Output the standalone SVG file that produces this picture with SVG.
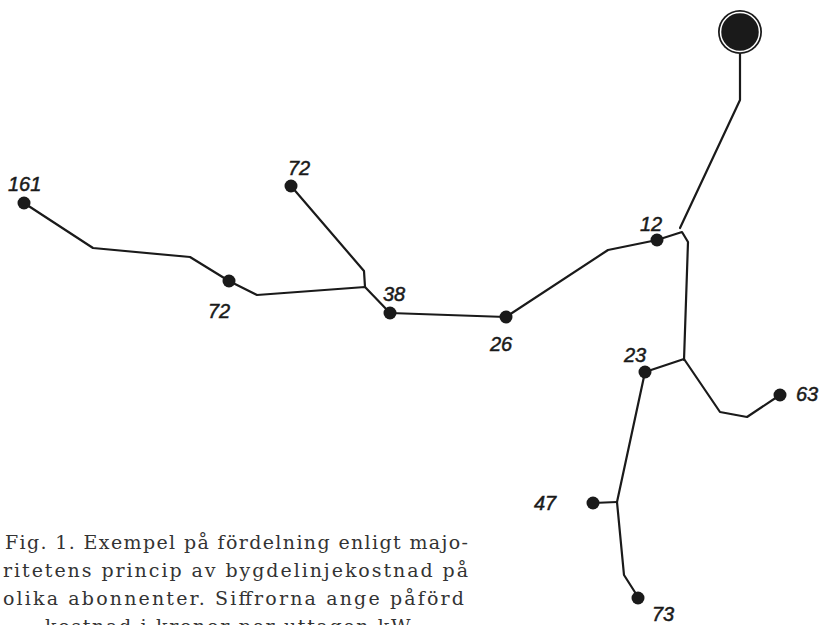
<svg xmlns="http://www.w3.org/2000/svg" width="828" height="625" viewBox="0 0 828 625">
<style>
.wire{fill:none;stroke:#1a1a1a;stroke-width:2.2;stroke-linejoin:round;stroke-linecap:round}
.dot{fill:#1a1a1a}
.lbl{font-family:"Liberation Sans",Arial,sans-serif;font-style:italic;font-size:20px;fill:#1a1a1a;stroke:#1a1a1a;stroke-width:0.5}
.cap{font-family:"DejaVu Serif","Liberation Serif",serif;font-size:19px;fill:#333}
</style>
<rect width="828" height="625" fill="#fff"/>
<g id="connectors">
<path class="wire" d="M740,54 L740,100 L680,228"/>
<path class="wire" d="M657,240 L682,232 L688,242 L684,360"/>
<path class="wire" d="M657,240 L608,250 L506,317"/>
<path class="wire" d="M506,317 L390,313"/>
<path class="wire" d="M390,313 L365,287 L257,295 L229,281 L190,257 L93,248 L24,203"/>
<path class="wire" d="M365,287 L364,271 L291,186"/>
<path class="wire" d="M645,372 L684,359 L720,412 L747,417 L780,395"/>
<path class="wire" d="M645,372 L617,502 L624,575 L638,597"/>
<path class="wire" d="M593,503 L617,502"/>
</g>
<g id="source">
<circle cx="740" cy="32" r="22" fill="#1a1a1a"/>
<circle cx="740" cy="32" r="19.5" fill="none" stroke="#fff" stroke-width="1.5"/>
</g>
<g id="n161"><circle class="dot" cx="24" cy="203" r="6.5"/><text class="lbl" x="8" y="191">161</text></g>
<g id="n72a"><circle class="dot" cx="291" cy="186" r="6.5"/><text class="lbl" x="288" y="175">72</text></g>
<g id="n72b"><circle class="dot" cx="229" cy="281" r="6.5"/><text class="lbl" x="208" y="318">72</text></g>
<g id="n38"><circle class="dot" cx="390" cy="313" r="6.5"/><text class="lbl" x="383" y="301">38</text></g>
<g id="n26"><circle class="dot" cx="506" cy="317" r="6.5"/><text class="lbl" x="490" y="351">26</text></g>
<g id="n12"><circle class="dot" cx="657" cy="240" r="6.5"/><text class="lbl" x="640" y="231">12</text></g>
<g id="n23"><circle class="dot" cx="645" cy="372" r="6.5"/><text class="lbl" x="624" y="362">23</text></g>
<g id="n63"><circle class="dot" cx="780" cy="395" r="6.5"/><text class="lbl" x="796" y="401">63</text></g>
<g id="n47"><circle class="dot" cx="593" cy="503" r="6.5"/><text class="lbl" x="534" y="510">47</text></g>
<g id="n73"><circle class="dot" cx="638" cy="598" r="6.5"/><text class="lbl" x="652" y="621">73</text></g>
<g id="caption">
<text class="cap" x="5" y="549" textLength="463" lengthAdjust="spacing">Fig. 1.  Exempel på fördelning enligt majo-</text>
<text class="cap" x="3" y="577" textLength="465" lengthAdjust="spacing">ritetens princip av bygdelinjekostnad på</text>
<text class="cap" x="3" y="605" textLength="461" lengthAdjust="spacing">olika abonnenter.  Siffrorna ange påförd</text>
<text class="cap" x="45" y="633" textLength="370" lengthAdjust="spacing">kostnad i kronor per uttagen kW.</text>
</g>
</svg>
